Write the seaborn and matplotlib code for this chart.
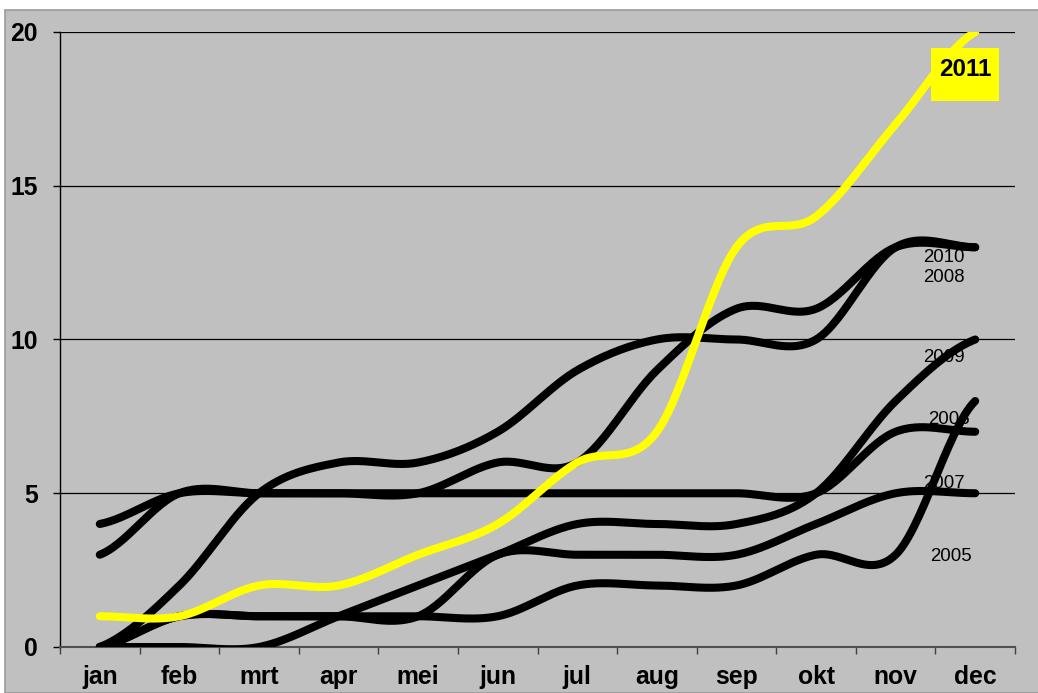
import numpy as np
import pandas as pd
import matplotlib
matplotlib.use("Agg")
import matplotlib.pyplot as plt
import seaborn as sns
from matplotlib.patches import Rectangle

# data: cumulative counts per month
months = ['jan', 'feb', 'mrt', 'apr', 'mei', 'jun', 'jul', 'aug', 'sep', 'okt', 'nov', 'dec']
y2005 = [0, 1, 1, 1, 1, 1, 2, 2, 2, 3, 3, 8]
y2006 = [4, 5, 5, 5, 5, 5, 5, 5, 5, 5, 7, 7]
y2007 = [0, 1, 1, 1, 1, 3, 3, 3, 3, 4, 5, 5]
y2008 = [0, 2, 5, 6, 6, 7, 9, 10, 10, 10, 13, 13]
y2009 = [0, 0, 0, 1, 2, 3, 4, 4, 4, 5, 8, 10]
y2010 = [3, 5, 5, 5, 5, 6, 6, 9, 11, 11, 13, 13]
y2011 = [1, 1, 2, 2, 3, 4, 6, 7, 13, 14, 17, 20]

years = ['2005', '2006', '2007', '2008', '2009', '2010', '2011']
series = [y2005, y2006, y2007, y2008, y2009, y2010, y2011]

# where the year labels sit (x in month index, y in data units)
label_pos = {'2010': (10.61, 12.68), '2008': (10.61, 12.0), '2009': (10.61, 9.4),
             '2006': (10.67, 7.41), '2007': (10.61, 5.33), '2005': (10.69, 2.93)}


def smooth(values, steps=30):
    # cardinal (catmull-rom) spline, like excel's "smoothed line"
    p = np.asarray(values, dtype=float)
    m = np.empty_like(p)
    m[1:-1] = (p[2:] - p[:-2]) / 2
    m[0] = (p[1] - p[0]) / 2
    m[-1] = (p[-1] - p[-2]) / 2
    t = np.linspace(0, 1, steps, endpoint=False)
    h00 = 2 * t**3 - 3 * t**2 + 1
    h01 = -2 * t**3 + 3 * t**2
    h10 = t**3 - 2 * t**2 + t
    h11 = t**3 - t**2
    xs, ys = [], []
    for i in range(len(p) - 1):
        xs.append(i + t)
        ys.append(h00 * p[i] + h01 * p[i + 1] + h10 * m[i] + h11 * m[i + 1])
    xs.append([len(p) - 1])
    ys.append([p[-1]])
    return np.concatenate(xs), np.concatenate(ys)


rows = []
for yr, vals in zip(years, series):
    xs, ys = smooth(vals)
    rows.append(pd.DataFrame({'x': xs, 'y': ys, 'year': yr}))
df = pd.concat(rows, ignore_index=True)

plt.rcParams['font.family'] = ['Liberation Sans', 'DejaVu Sans']

fig = plt.figure(figsize=(10.38, 6.93), dpi=100)
fig.patch.set_facecolor('white')
fig.patches.append(Rectangle((5 / 1038, 0), 1.0, 683 / 693, transform=fig.transFigure,
                             facecolor='#c0c0c0', edgecolor='#9a9a9a', linewidth=1.2, zorder=-10))

ax = fig.add_axes([60 / 1038, 1 - 647 / 693, 955 / 1038, 615 / 693])
ax.set_facecolor('#c0c0c0')

palette = {yr: 'black' for yr in years}
palette['2011'] = '#ffff00'
sns.lineplot(data=df, x='x', y='y', hue='year', hue_order=years, palette=palette,
             estimator=None, sort=False, units='year', legend=False, linewidth=5.8,
             solid_capstyle='round', solid_joinstyle='round', ax=ax, zorder=3)
# yellow on top
ax.get_lines()[-1].set_zorder(4)

for yr, (lx, ly) in label_pos.items():
    ax.text(lx, ly, yr, fontsize=13.4, ha='center', va='center', color='black', zorder=2)

# 2011 callout
ax.add_patch(Rectangle((0.912, 0.8878), 0.0712, 0.0862, transform=ax.transAxes,
                       facecolor='#ffff00', edgecolor='none', zorder=5))
ax.text(0.9476, 0.9398, '2011', transform=ax.transAxes, fontsize=17.5, fontweight='bold',
        ha='center', va='center', zorder=6)

ax.set_xlim(-0.5, 11.5)
ax.set_ylim(0, 20)
ax.set_xticks(range(12))
ax.set_xticklabels(months, fontsize=17.8, fontweight='bold')
ax.set_xticks(np.arange(-0.5, 12, 1), minor=True)
ax.set_yticks([0, 5, 10, 15, 20])
ax.set_yticklabels(['0', '5', '10', '15', '20'], fontsize=17.8, fontweight='bold')
ax.tick_params(axis='x', which='major', length=0, pad=13)
ax.tick_params(axis='x', which='minor', length=5, width=1, color='#404040', direction='out')
ax.tick_params(axis='y', length=5, width=1, color='black', direction='out', pad=11)
ax.set_xlabel('')
ax.set_ylabel('')

ax.yaxis.grid(True, color='black', linewidth=0.9)
ax.set_axisbelow(True)
for side in ['top', 'right']:
    ax.spines[side].set_visible(False)
ax.spines['left'].set_color('black')
ax.spines['left'].set_linewidth(1.0)
ax.spines['bottom'].set_color('#505050')
ax.spines['bottom'].set_linewidth(1.5)

fig.savefig('out.png', dpi=100, facecolor=fig.get_facecolor())
